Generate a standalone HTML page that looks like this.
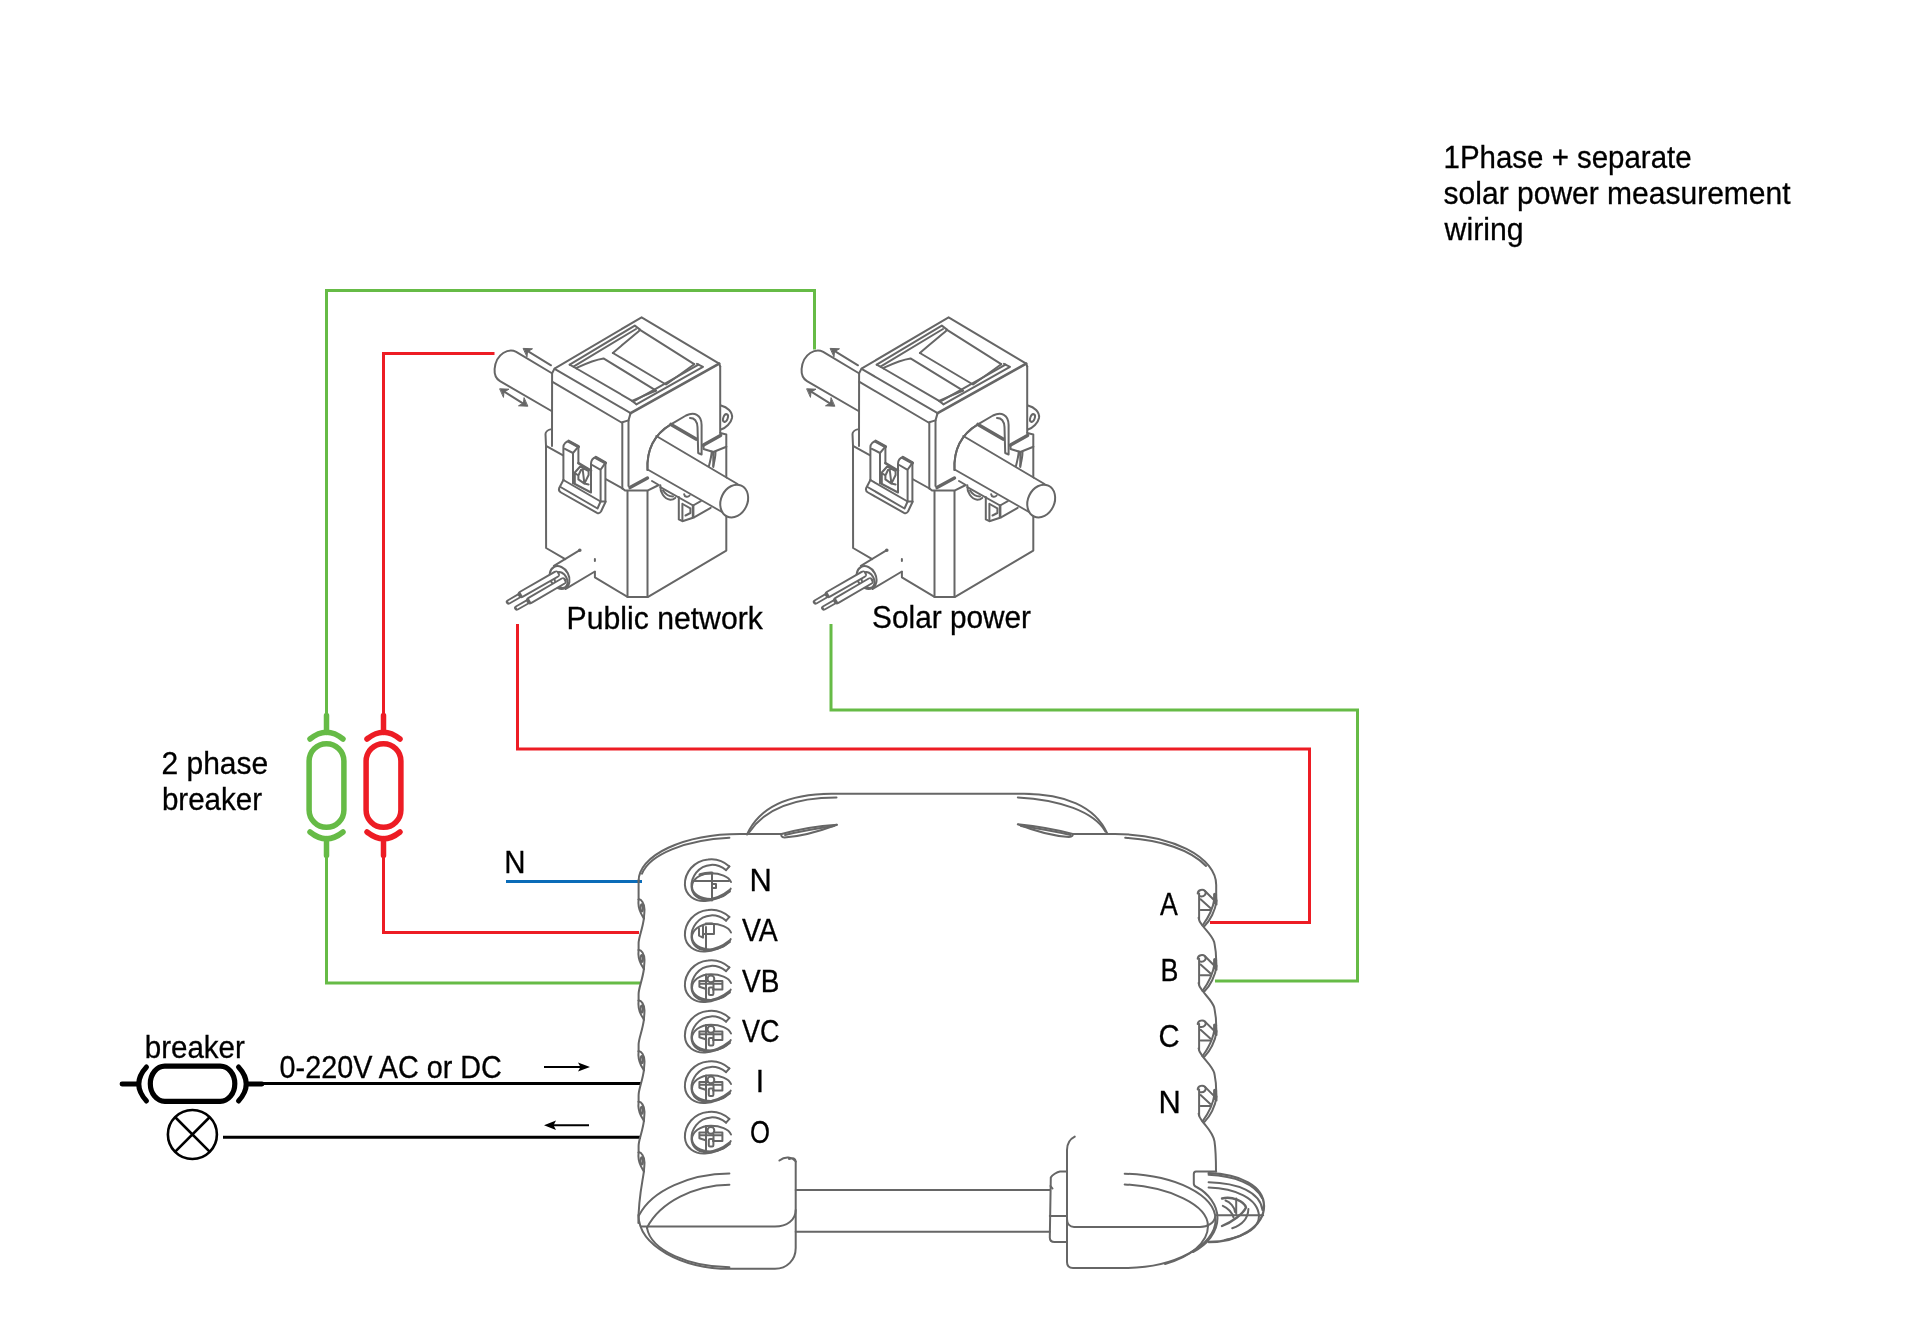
<!DOCTYPE html>
<html><head><meta charset="utf-8">
<style>
html,body{margin:0;padding:0;background:#fff;width:1920px;height:1335px;overflow:hidden}
svg{display:block}
text{font-family:"Liberation Sans",sans-serif;font-size:30px;fill:#000}
#texts{will-change:transform;stroke:#000;stroke-width:0.3px}
</style></head>
<body>
<svg width="1920" height="1335" viewBox="0 0 1920 1335">
<rect width="1920" height="1335" fill="#fff"/>

<!-- TEXT -->
<g id="texts">
<text transform="translate(1443.6 167.8) scale(0.982 1.03)">1Phase + separate</text>
<text transform="translate(1443.6 203.8) scale(1.001 1.03)">solar power measurement</text>
<text transform="translate(1444.6 239.7) scale(1.008 1.03)">wiring</text>
<text transform="translate(566.6 628.8) scale(1.006 1.03)">Public network</text>
<text transform="translate(872.1 628.3) scale(0.993 1.03)">Solar power</text>
<text transform="translate(161.5 773.5) scale(1.000 1.03)">2 phase</text>
<text transform="translate(161.9 809.7) scale(0.985 1.03)">breaker</text>
<text transform="translate(504.2 873.0) scale(0.982 1.03)">N</text>
<text transform="translate(144.7 1058.3) scale(0.985 1.03)">breaker</text>
<text transform="translate(279.6 1077.8) scale(0.959 1.03)">0-220V AC or DC</text>
<text transform="translate(749.4 890.9) scale(1.029 1.03)">N</text>
<text transform="translate(742.0 941.0) scale(0.947 1.03)">VA</text>
<text transform="translate(742.0 991.5) scale(0.934 1.03)">VB</text>
<text transform="translate(742.0 1042.0) scale(0.900 1.03)">VC</text>
<text transform="translate(755.8 1092.3) scale(1.000 1.03)">I</text>
<text transform="translate(750.1 1143.2) scale(0.857 1.03)">O</text>
<text transform="translate(1160.0 914.8) scale(0.890 1.03)">A</text>
<text transform="translate(1160.5 980.7) scale(0.894 1.03)">B</text>
<text transform="translate(1158.6 1046.5) scale(0.972 1.03)">C</text>
<text transform="translate(1158.4 1112.7) scale(1.029 1.03)">N</text>
</g>

<!-- WIRES -->
<g fill="none" stroke-width="3" stroke-linejoin="miter" stroke-linecap="butt">
  <path stroke="#66bb46" d="M814.5 349.5 V290.5 H326.5 V725"/>
  <path stroke="#66bb46" d="M326.5 845 V983 H640"/>
  <path stroke="#ed1c24" d="M494.5 353.5 H383.5 V725"/>
  <path stroke="#ed1c24" d="M383.5 845 V932.5 H639"/>
  <path stroke="#ed1c24" d="M517.5 624 V749 H1309.5 V922.5 H1210"/>
  <path stroke="#66bb46" d="M831 624 V710 H1357.5 V981 H1215"/>
  <path stroke="#0b6cb8" d="M506 881.5 H642"/>
  <path stroke="#000" d="M262 1083.5 H641"/>
  <path stroke="#000" d="M223 1137.3 H641"/>
</g>

<!-- BREAKERS (2 phase) -->
<g id="brk" fill="none" stroke-width="5.5" stroke-linecap="round">
  <g stroke="#66bb46" transform="translate(326.5 785.5)">
    <rect x="-17.4" y="-41.8" width="34.8" height="83.6" rx="17.4"/>
    <path d="M-16.5 -46.5 Q0 -60 16.5 -46.5"/>
    <path d="M-16.5 46.5 Q0 60 16.5 46.5"/>
    <path d="M0 -70 V-53 M0 53 V70"/>
  </g>
  <g stroke="#ed1c24" transform="translate(383.5 785.5)">
    <rect x="-17.4" y="-41.8" width="34.8" height="83.6" rx="17.4"/>
    <path d="M-16.5 -46.5 Q0 -60 16.5 -46.5"/>
    <path d="M-16.5 46.5 Q0 60 16.5 46.5"/>
    <path d="M0 -70 V-53 M0 53 V70"/>
  </g>
</g>

<!-- BLACK BREAKER + LAMP -->
<g fill="none" stroke="#000">
  <rect x="150.3" y="1066.1" width="84.5" height="35.2" rx="14.5" ry="17.6" stroke-width="5.2"/>
  <path d="M146.5 1067 Q131 1084 146.5 1101" stroke-width="5" stroke-linecap="round"/>
  <path d="M238.5 1067 Q254 1084 238.5 1101" stroke-width="5" stroke-linecap="round"/>
  <path d="M122 1084 H138 M247 1084 H262" stroke-width="4.8" stroke-linecap="round"/>
  <circle cx="192.4" cy="1134.5" r="24.5" stroke-width="2.6"/>
  <path d="M175 1117 L209.8 1151.9 M209.8 1117 L175 1151.9" stroke-width="2.6"/>
  <!-- arrows -->
  <path d="M544 1067 H586" stroke-width="2"/>
  <path d="M590 1067 L578 1062.5 L580.5 1067 L578 1071.5 Z" fill="#000" stroke="none"/>
  <path d="M548 1125.2 H589" stroke-width="2"/>
  <path d="M544 1125.2 L556 1120.5 L553.5 1125.2 L556 1130 Z" fill="#000" stroke="none"/>
</g>

<!-- CT CLAMP -->
<g id="ctwrap">
<defs>
<g id="ct" fill="none" stroke="#666" stroke-width="2" stroke-linejoin="round" stroke-linecap="round">
  <!-- cylinder back part -->
  <path d="M551.5 373 L516.2 351.8 C509 348, 496 353, 494.6 369 C494.2 375, 496.5 379, 500 381.1 L551.5 411"/>
  <!-- arrows -->
  <path d="M551 365.3 L527 350.6"/>
  <path d="M523.5 348.4 L532.5 348.8 L527.5 351.7 L527 356.5 Z" fill="#666" stroke-width="1"/>
  <path d="M503 390.8 L524.5 404.3"/>
  <path d="M500 388.8 L509 389.2 L504 392 L503.5 397 Z" fill="#666" stroke-width="1"/>
  <path d="M527.5 406.2 L518.5 405.8 L523.5 403 L524 398 Z" fill="#666" stroke-width="1"/>
  <!-- upper body top face -->
  <path d="M552.1 373.3 L554.5 368.6 L641.6 317.3 L719.2 363.6 L720.2 366.5"/>
  <path d="M554.6 368.9 L630.6 413.1"/>
  <path d="M630.6 413.1 L719.2 363.6" stroke-width="2.8"/>
  <path d="M552.5 381.9 L621.5 422.5 L628.5 420.4 L630.6 413.1"/>
  <!-- inset frame -->
  <path d="M569.7 364.7 L634.8 325.6 L640 329.6"/>
  <path d="M573.5 366.6 L636 329"/>
  <path d="M569.7 364.7 L576.5 368.5"/>
  <path d="M636.4 404.3 L703 366.8 L697 363.8"/>
  <path d="M634.5 400.8 L698.5 364.6"/>
  <path d="M576.5 368.5 L631.7 400.6 L636.4 404.3"/>
  <path d="M640 329.8 L694.2 364.2"/>
  <!-- channel -->
  <path d="M576.5 367.8 C588 362.5, 596 359.5, 603.5 358.4 L656.1 390.7 C648 393.5, 640 397.5, 632 400.8"/>
  <path d="M612.9 353 C622 345, 632 337, 639.5 330.5"/>
  <path d="M612.9 353 L666 384.5 C675 378, 685 371, 694.2 364.2"/>
  <!-- upper body vertical edges -->
  <path d="M552.1 373.3 L552 446"/>
  <path d="M720.2 366.5 L720.2 433"/>
  <path d="M622.3 422.5 L622.3 488.5"/>
  <path d="M628.5 420.4 L628.5 486"/>
  <path d="M546 445.8 L622.5 488.5"/>
  <!-- ear right -->
  <path d="M721 405.5 C727 407, 733 412, 732 418 C731 423, 726 428, 721 429.5"/>
  <ellipse cx="725.5" cy="418" rx="2.2" ry="4" transform="rotate(20 725.5 418)"/>
  <!-- arch -->
  <path d="M647.5 470 C646.5 450, 653 435, 670.9 424.3 L686 415.5 C694 411.5, 701.6 414.5, 701.6 425 L701.6 454.5 L698.2 453 L697.5 427 C697 420, 694 418, 690 418"/>
  <path d="M671 424.5 L696 439" stroke-width="3.6"/>
  <path d="M703.5 445 L720.5 435.5" stroke-width="3.6"/>
  <path d="M713.3 452 L726.4 446.7"/>
  <path d="M703.5 445 L703.5 449 L713.3 452 L713.3 455"/>
  <path d="M708.9 466.2 C710.5 460, 711.5 455, 711.8 451.6"/>
  <path d="M713.3 466 C714.5 461, 715.5 456, 715.5 452"/>
  <!-- clip on left face -->
  <path d="M563.4 480 L563.4 447 C563.4 444, 566 441.5, 568.8 441.3 L578.4 446.7 L578.4 463.2 L591 470.5 L591 463.8 C591 460.5, 593 457.5, 595.8 457.5 L605.4 462.9 L605.5 502 L601 511.5 C600 513, 599 513.8, 597 512.8 L561 492.5 C559.2 491.5, 558.5 490, 559.2 488 Z" fill="#fff" stroke="none"/>
  <path d="M563.4 480 L563.4 447 C563.4 444, 566 441.5, 568.8 441.3 L578.4 446.7 L578.4 463.2"/>
  <path d="M568.8 441.3 L578.4 446.7" stroke-width="3.2"/>
  <path d="M564.9 448.8 L573 453 L578.4 446.7 M573 453 L573 483"/>
  <path d="M591 492 L591 463.8 C591 460.5, 593 457.5, 595.8 457.5 L605.4 462.9 L605.4 501.5"/>
  <path d="M595.8 457.5 L605.4 462.9" stroke-width="3.2"/>
  <path d="M592.2 465 L600.6 469.8 L605.4 462.9 M600.6 469.8 L600.6 501"/>
  <path d="M563.4 480 L600.6 501.5 L605.5 501.5"/>
  <path d="M560.5 487 L597.5 508.5 L600.6 501.5"/>
  <path d="M563.4 480 L559.2 488 C558.5 490, 559.2 491.5, 561 492.5 L597 512.8 C599 513.8, 600 513, 601 511.5 L605.5 502"/>
  <path d="M573 483 L591 492.5"/>
  <path d="M578.4 463.2 L591 470.5" stroke-width="2.6"/>
  <path d="M574.8 472.5 L580.2 466.5 L588.6 471 L588.6 475 L584.4 483.6 L578.4 479.4 L578.4 475.5 L574.8 473 M578.4 475.5 L582.4 467 M582.4 467 L584.4 483.6 M584.4 483.6 L588.6 484.5 M574.8 473 L574.8 483"/>
  <!-- lower body -->
  <path d="M546 445.8 L545.5 434 C545.5 432, 548 430, 550.5 429.4"/>
  <path d="M720.2 433 L726.3 434.5 L726.3 550.6 L648.1 596.9 L627.5 596.9 L594.9 577.3 L594.9 572"/>
  <path d="M565.2 559.1 L546.1 548 L546 445.8"/>
  <path d="M594.9 559 L594.9 561"/>
  <path d="M627.5 491 L627.5 596.9"/>
  <path d="M647.5 491 L647.5 596.9"/>
  <path d="M622.5 488.5 L625 490.6 L647.5 490.6 L658.8 485 L652 481"/>
  <path d="M630 487.6 L647.5 478" stroke-width="3.4"/>
  <path d="M713.3 452 L713.3 467"/>
  <!-- hook under cylinder -->
  <path d="M660.3 485.3 C660 492, 664 499, 670.2 499.7 C672.5 499.8, 674 499, 675.2 497.9"/>
  <path d="M663 490.5 C666 495, 669 496.5, 673 496.5"/>
  <path d="M660.3 487.2 L693.1 505.5 L700.8 501.2"/>
  <path d="M678.8 497 L678.8 519.4 L682.4 521.2 L694.5 517.2 L710.7 507.8"/>
  <path d="M693.1 505.5 L693.1 516.5" stroke-width="2.6"/>
  <path d="M682.4 503.8 L682.4 520"/>
  <path d="M683.5 504.5 L690.4 508.4 L690.4 513 L685.5 515.5"/>
  <path d="M684.2 494.3 C684.5 497, 688 497.5, 689.6 495.5"/>
  <!-- cylinder front (occluding) -->
  <path d="M657.5 437.5 L737 484.8 L748 501 L721 511 L650 470 C649.5 460, 651.5 447, 657.5 437.5 Z" fill="#fff" stroke="none"/>
  <path d="M647.5 470 C646.5 450, 653 435, 670.9 424.3"/>
  <path d="M656.3 436 L737.5 484"/>
  <path d="M648.5 470 L722 512"/>
  <ellipse cx="734.2" cy="501.1" rx="13.2" ry="17" transform="rotate(25 734.2 501.1)" fill="#fff"/>
  <!-- cable -->
  <path d="M553.9 565.8 L579.8 550.1"/>
  <circle cx="579.8" cy="550.2" r="0.8" fill="#666"/>
  <path d="M565.7 588.9 L594.9 571.5"/>
  <ellipse cx="559.6" cy="577.6" rx="9.3" ry="12" transform="rotate(-28 559.6 577.6)" fill="#fff"/>
  <ellipse cx="561" cy="580" rx="6" ry="8.4" transform="rotate(-28 561 580)"/>
  <!-- upper wire -->
  <path d="M508.5 602 L522 594.2" stroke-width="5.4" stroke-linecap="round"/>
  <path d="M508.5 602 L522 594.2" stroke="#fff" stroke-width="1.8" stroke-linecap="butt"/>
  <path d="M521.5 594.2 L556 574.4" stroke-width="7.6" stroke-linecap="round"/>
  <path d="M521.5 594.2 L557.5 573.6" stroke="#fff" stroke-width="3.8" stroke-linecap="butt"/>
  <!-- lower wire -->
  <path d="M516.8 608 L530.5 600.2" stroke-width="5.4" stroke-linecap="round"/>
  <path d="M516.8 608 L530.5 600.2" stroke="#fff" stroke-width="1.8" stroke-linecap="butt"/>
  <path d="M530 600.4 L562.8 581.2" stroke-width="7.6" stroke-linecap="round"/>
  <path d="M530 600.4 L564 580.5" stroke="#fff" stroke-width="3.8" stroke-linecap="butt"/>
</g>
</defs>
<use href="#ct"/>
<use href="#ct" x="307"/>
</g>

<!-- DEVICE -->
<g id="device" fill="none" stroke="#666" stroke-width="2" stroke-linecap="round" stroke-linejoin="round">
<path d="M638.6 881 A101.4 47 0 0 1 740 834 L781.6 834"/>
<path d="M642 873.7 A99.4 43.5 0 0 1 729.4 837.8"/>
<path d="M747 834.5 C760 806, 790 794, 831.6 793.8 L1024 793.8 C1064 794, 1095 806, 1107.2 833.5"/>
<path d="M749.5 832 C766 808, 796 797.6, 836.5 797.6"/>
<path d="M1017.8 797.4 C1060 799.5, 1094 812, 1105.4 831.4"/>
<path d="M781.6 834 C800 829, 820 826, 837 824.8 C823 830, 802 836.5, 784.5 837.5 C781 837.5, 781 835, 781.6 834 Z"/>
<path d="M785 835 C801 831, 820 828, 834 826"/><path d="M1070.5 835 C1054 831, 1035 828, 1021 826"/><path d="M1072.7 834 C1054 829, 1034 826, 1017.8 824.3 C1032 830, 1052 836, 1069 837 C1072.5 837, 1073 835, 1072.7 834 Z"/>

<path d="M1072.7 834 L1114.8 834 A101.4 51 0 0 1 1216.2 885 L1216.2 895"/>
<path d="M1125.2 837.8 A99.4 47.5 0 0 1 1206 866"/>
<path d="M638.6 899.4 C641 898.9, 644.6 903.4, 644.5 909.4 C644.4 914.4, 643.8 917.4, 643.9 918.4"/>
<path d="M638.6 899.4 C638 904.4, 639 909.4, 641 913.4 C642 915.4, 643.5 917.4, 643.9 918.4"/>
<ellipse cx="641.8" cy="907.9" rx="1.2" ry="3.6"/>
<path d="M643.9 918.4 C642.5 929.4, 638.6 937.4, 638.6 943.4 L638.6 950.0"/>
<path d="M638.6 950.0 C641 949.5, 644.6 954.0, 644.5 960.0 C644.4 965.0, 643.8 968.0, 643.9 969.0"/>
<path d="M638.6 950.0 C638 955.0, 639 960.0, 641 964.0 C642 966.0, 643.5 968.0, 643.9 969.0"/>
<ellipse cx="641.8" cy="958.5" rx="1.2" ry="3.6"/>
<path d="M643.9 969.0 C642.5 980.0, 638.6 988.0, 638.6 994.0 L638.6 1000.6"/>
<path d="M638.6 1000.6 C641 1000.1, 644.6 1004.6, 644.5 1010.6 C644.4 1015.6, 643.8 1018.6, 643.9 1019.6"/>
<path d="M638.6 1000.6 C638 1005.6, 639 1010.6, 641 1014.6 C642 1016.6, 643.5 1018.6, 643.9 1019.6"/>
<ellipse cx="641.8" cy="1009.1" rx="1.2" ry="3.6"/>
<path d="M643.9 1019.6 C642.5 1030.6, 638.6 1038.6, 638.6 1044.6 L638.6 1051.2"/>
<path d="M638.6 1051.2 C641 1050.7, 644.6 1055.2, 644.5 1061.2 C644.4 1066.2, 643.8 1069.2, 643.9 1070.2"/>
<path d="M638.6 1051.2 C638 1056.2, 639 1061.2, 641 1065.2 C642 1067.2, 643.5 1069.2, 643.9 1070.2"/>
<ellipse cx="641.8" cy="1059.7" rx="1.2" ry="3.6"/>
<path d="M643.9 1070.2 C642.5 1081.2, 638.6 1089.2, 638.6 1095.2 L638.6 1101.8"/>
<path d="M638.6 1101.8 C641 1101.3, 644.6 1105.8, 644.5 1111.8 C644.4 1116.8, 643.8 1119.8, 643.9 1120.8"/>
<path d="M638.6 1101.8 C638 1106.8, 639 1111.8, 641 1115.8 C642 1117.8, 643.5 1119.8, 643.9 1120.8"/>
<ellipse cx="641.8" cy="1110.3" rx="1.2" ry="3.6"/>
<path d="M643.9 1120.8 C642.5 1131.8, 638.6 1139.8, 638.6 1145.8 L638.6 1152.4"/>
<path d="M638.6 1152.4 C641 1151.9, 644.6 1156.4, 644.5 1162.4 C644.4 1167.4, 643.8 1170.4, 643.9 1171.4"/>
<path d="M638.6 1152.4 C638 1157.4, 639 1162.4, 641 1166.4 C642 1168.4, 643.5 1170.4, 643.9 1171.4"/>
<ellipse cx="641.8" cy="1160.9" rx="1.2" ry="3.6"/>
<path d="M643.9 1171.4 C642.5 1182.4, 638.4 1197.4, 638.4 1223"/>
<path d="M638.6 880 L638.6 899.4"/>
<path d="M1197.7 893.5 C1198 889.5, 1203 889.0, 1205 891.0 L1214.2 900.2"/><path d="M1205 891.0 C1207 893.5, 1204.5 897.0, 1200.2 896.3"/>
<path d="M1199.1 893.5 L1199.1 919.5"/>
<path d="M1200.6 899.2 L1210.3 908.0"/>
<path d="M1200.6 910.0 L1210.3 910.0"/>
<path d="M1214.5 898.5 C1213 908.5, 1207 919.5, 1202.5 925.5"/>
<path d="M1216.5 900.5 C1215.5 910.5, 1210 920.5, 1204.5 926.0"/>
<path d="M1214.8 894.5 L1214.8 902.5" stroke-width="3.4"/>
<path d="M1216.2 895.0 C1216.5 899.5, 1216.5 902.5, 1216.5 904.5"/>
<path d="M1198.6 917.8 C1199 921.5, 1201 923.5, 1202.5 925.5 C1206 930.5, 1212 935.5, 1214.2 942.1 C1215 946.5, 1216.2 950.5, 1216.2 960.3"/>
<path d="M1197.7 958.8 C1198 954.8, 1203 954.3, 1205 956.3 L1214.2 965.5"/><path d="M1205 956.3 C1207 958.8, 1204.5 962.3, 1200.2 961.6"/>
<path d="M1199.1 958.8 L1199.1 984.8"/>
<path d="M1200.6 964.5 L1210.3 973.3"/>
<path d="M1200.6 975.3 L1210.3 975.3"/>
<path d="M1214.5 963.8 C1213 973.8, 1207 984.8, 1202.5 990.8"/>
<path d="M1216.5 965.8 C1215.5 975.8, 1210 985.8, 1204.5 991.3"/>
<path d="M1214.8 959.8 L1214.8 967.8" stroke-width="3.4"/>
<path d="M1216.2 960.3 C1216.5 964.8, 1216.5 967.8, 1216.5 969.8"/>
<path d="M1198.6 983.1 C1199 986.8, 1201 988.8, 1202.5 990.8 C1206 995.8, 1212 1000.8, 1214.2 1007.4 C1215 1011.8, 1216.2 1015.8, 1216.2 1025.6"/>
<path d="M1197.7 1024.1 C1198 1020.1, 1203 1019.6, 1205 1021.6 L1214.2 1030.8"/><path d="M1205 1021.6 C1207 1024.1, 1204.5 1027.6, 1200.2 1026.9"/>
<path d="M1199.1 1024.1 L1199.1 1050.1"/>
<path d="M1200.6 1029.8 L1210.3 1038.6"/>
<path d="M1200.6 1040.6 L1210.3 1040.6"/>
<path d="M1214.5 1029.1 C1213 1039.1, 1207 1050.1, 1202.5 1056.1"/>
<path d="M1216.5 1031.1 C1215.5 1041.1, 1210 1051.1, 1204.5 1056.6"/>
<path d="M1214.8 1025.1 L1214.8 1033.1" stroke-width="3.4"/>
<path d="M1216.2 1025.6 C1216.5 1030.1, 1216.5 1033.1, 1216.5 1035.1"/>
<path d="M1198.6 1048.4 C1199 1052.1, 1201 1054.1, 1202.5 1056.1 C1206 1061.1, 1212 1066.1, 1214.2 1072.7 C1215 1077.1, 1216.2 1081.1, 1216.2 1090.9"/>
<path d="M1197.7 1089.4 C1198 1085.4, 1203 1084.9, 1205 1086.9 L1214.2 1096.1"/><path d="M1205 1086.9 C1207 1089.4, 1204.5 1092.9, 1200.2 1092.2"/>
<path d="M1199.1 1089.4 L1199.1 1115.4"/>
<path d="M1200.6 1095.1 L1210.3 1103.9"/>
<path d="M1200.6 1105.9 L1210.3 1105.9"/>
<path d="M1214.5 1094.4 C1213 1104.4, 1207 1115.4, 1202.5 1121.4"/>
<path d="M1216.5 1096.4 C1215.5 1106.4, 1210 1116.4, 1204.5 1121.9"/>
<path d="M1214.8 1090.4 L1214.8 1098.4" stroke-width="3.4"/>
<path d="M1216.2 1090.9 C1216.5 1095.4, 1216.5 1098.4, 1216.5 1100.4"/>
<path d="M1198.6 1113.7 C1199 1117.4, 1201 1119.4, 1202.5 1121.4 C1206 1126.4, 1213 1132.4, 1214.5 1141.4 C1215.5 1148.4, 1216 1156.4, 1216 1171.4"/>
<g transform="translate(0 880.6)"><path d="M729.4 -14.2 C722 -21, 714 -22, 708 -21.2 C694 -20, 684.5 -8, 684.9 4.3 C685.5 15, 695 21, 705 20.4 C715 20, 724 15, 729.9 10.9"/><path d="M726.1 -10.5 C720 -15, 716 -16, 711 -15.7 C698 -15, 691 -3, 691.5 6 C692 14, 698 19, 705 18.7"/><path d="M729.4 -14.2 L726.1 -10.5"/><path d="M731 1.4 C729 -4, 720 -7.4, 711 -7.4 C700 -7.4, 692 -1, 692 6 C692 13, 700 18.3, 711 18.3 C720 18.3, 728 14, 730.7 8"/><path d="M729.5 9.5 C723 15, 713 18.8, 704 19.8"/><path d="M693.5 0.5 H729 M712 -7.5 V20 M712 3.5 H716 V7.5 H712"/><path d="M700 -6 C704 -7.2, 708 -7.6, 712 -7.5" stroke-width="3"/></g>
<g transform="translate(0 931.1)"><path d="M729.4 -14.2 C722 -21, 714 -22, 708 -21.2 C694 -20, 684.5 -8, 684.9 4.3 C685.5 15, 695 21, 705 20.4 C715 20, 724 15, 729.9 10.9"/><path d="M726.1 -10.5 C720 -15, 716 -16, 711 -15.7 C698 -15, 691 -3, 691.5 6 C692 14, 698 19, 705 18.7"/><path d="M729.4 -14.2 L726.1 -10.5"/><path d="M731 1.4 C729 -4, 720 -7.4, 711 -7.4 C700 -7.4, 692 -1, 692 6 C692 13, 700 18.3, 711 18.3 C720 18.3, 728 14, 730.7 8"/><path d="M729.5 9.5 C723 15, 713 18.8, 704 19.8"/><path d="M706 -4 V18.5 M699 -2.5 V4.5 L703 6.5 V3 H714 V-6.5 M703 3 V-5"/><path d="M706 -7.3 H712" stroke-width="2.6"/></g>
<g transform="translate(0 981.6)"><path d="M729.4 -14.2 C722 -21, 714 -22, 708 -21.2 C694 -20, 684.5 -8, 684.9 4.3 C685.5 15, 695 21, 705 20.4 C715 20, 724 15, 729.9 10.9"/><path d="M726.1 -10.5 C720 -15, 716 -16, 711 -15.7 C698 -15, 691 -3, 691.5 6 C692 14, 698 19, 705 18.7"/><path d="M729.4 -14.2 L726.1 -10.5"/><path d="M731 1.4 C729 -4, 720 -7.4, 711 -7.4 C700 -7.4, 692 -1, 692 6 C692 13, 700 18.3, 711 18.3 C720 18.3, 728 14, 730.7 8"/><path d="M729.5 9.5 C723 15, 713 18.8, 704 19.8"/><path d="M706 -7.2 V17.5 M699.4 -0.6 H722.4 V8 H713 M699.4 -0.6 V5.1 L705.5 7.2 M699.4 2.2 H722.4 M713.5 1.5 V8"/><circle cx="710.9" cy="-2.7" r="3.4" fill="#fff"/><rect x="708.8" y="6" width="4.6" height="7.4" rx="1.2"/></g>
<g transform="translate(0 1032.1)"><path d="M729.4 -14.2 C722 -21, 714 -22, 708 -21.2 C694 -20, 684.5 -8, 684.9 4.3 C685.5 15, 695 21, 705 20.4 C715 20, 724 15, 729.9 10.9"/><path d="M726.1 -10.5 C720 -15, 716 -16, 711 -15.7 C698 -15, 691 -3, 691.5 6 C692 14, 698 19, 705 18.7"/><path d="M729.4 -14.2 L726.1 -10.5"/><path d="M731 1.4 C729 -4, 720 -7.4, 711 -7.4 C700 -7.4, 692 -1, 692 6 C692 13, 700 18.3, 711 18.3 C720 18.3, 728 14, 730.7 8"/><path d="M729.5 9.5 C723 15, 713 18.8, 704 19.8"/><path d="M706 -7.2 V17.5 M699.4 -0.6 H722.4 V8 H713 M699.4 -0.6 V5.1 L705.5 7.2 M699.4 2.2 H722.4 M713.5 1.5 V8"/><circle cx="710.9" cy="-2.7" r="3.4" fill="#fff"/><rect x="708.8" y="6" width="4.6" height="7.4" rx="1.2"/></g>
<g transform="translate(0 1082.6)"><path d="M729.4 -14.2 C722 -21, 714 -22, 708 -21.2 C694 -20, 684.5 -8, 684.9 4.3 C685.5 15, 695 21, 705 20.4 C715 20, 724 15, 729.9 10.9"/><path d="M726.1 -10.5 C720 -15, 716 -16, 711 -15.7 C698 -15, 691 -3, 691.5 6 C692 14, 698 19, 705 18.7"/><path d="M729.4 -14.2 L726.1 -10.5"/><path d="M731 1.4 C729 -4, 720 -7.4, 711 -7.4 C700 -7.4, 692 -1, 692 6 C692 13, 700 18.3, 711 18.3 C720 18.3, 728 14, 730.7 8"/><path d="M729.5 9.5 C723 15, 713 18.8, 704 19.8"/><path d="M706 -7.2 V17.5 M699.4 -0.6 H722.4 V8 H713 M699.4 -0.6 V5.1 L705.5 7.2 M699.4 2.2 H722.4 M713.5 1.5 V8"/><circle cx="710.9" cy="-2.7" r="3.4" fill="#fff"/><rect x="708.8" y="6" width="4.6" height="7.4" rx="1.2"/></g>
<g transform="translate(0 1133.1)"><path d="M729.4 -14.2 C722 -21, 714 -22, 708 -21.2 C694 -20, 684.5 -8, 684.9 4.3 C685.5 15, 695 21, 705 20.4 C715 20, 724 15, 729.9 10.9"/><path d="M726.1 -10.5 C720 -15, 716 -16, 711 -15.7 C698 -15, 691 -3, 691.5 6 C692 14, 698 19, 705 18.7"/><path d="M729.4 -14.2 L726.1 -10.5"/><path d="M731 1.4 C729 -4, 720 -7.4, 711 -7.4 C700 -7.4, 692 -1, 692 6 C692 13, 700 18.3, 711 18.3 C720 18.3, 728 14, 730.7 8"/><path d="M729.5 9.5 C723 15, 713 18.8, 704 19.8"/><path d="M706 -7.2 V17.5 M699.4 -0.6 H722.4 V8 H713 M699.4 -0.6 V5.1 L705.5 7.2 M699.4 2.2 H722.4 M713.5 1.5 V8"/><circle cx="710.9" cy="-2.7" r="3.4" fill="#fff"/><rect x="708.8" y="6" width="4.6" height="7.4" rx="1.2"/></g>
<path d="M638.4 1215 C639 1246, 682 1268.8, 730 1268.8 L775 1268.8 C787 1268.8, 795.7 1260, 795.7 1248 L795.7 1161.5"/>
<path d="M795.7 1161.5 C795.5 1158, 793 1157.5, 789 1159 M779.4 1160.5 C785 1156, 792 1156.5, 795.7 1161.5"/>
<path d="M641 1226.6 L775 1226.6 C787 1226.6, 795.7 1220, 795.7 1210"/>
<path d="M639 1215.4 C652 1190, 690 1174, 729.4 1173.6"/>
<path d="M647 1227.8 C660 1202, 695 1185, 729.4 1184.7"/>
<path d="M647 1227.8 C651 1251, 690 1267, 729.4 1267.2"/>
<path d="M795.7 1190 L1049.8 1190 M795.7 1231.7 L1049.8 1231.7"/>
<path d="M1066 1171.6 L1060 1171.6 C1057 1172, 1052 1175, 1050.8 1177.5 L1049.8 1237.5 C1049.8 1240.5, 1051.5 1242, 1054.5 1242 L1066 1242"/>
<path d="M1049.8 1216 L1066 1216 M1050.5 1186 L1052.5 1188.5"/>
<path d="M1074.75 1136.6 C1070 1139, 1067 1143, 1067 1150 L1067 1262 C1067 1266, 1069 1268, 1073 1268 L1124.7 1268 C1175 1268, 1215.6 1245, 1215.6 1220 C1215.6 1195, 1175 1175, 1124.7 1173.75"/>
<path d="M1124.7 1184.4 C1170 1187, 1208 1205, 1208 1226 C1208 1243, 1190 1257, 1165 1264"/>
<path d="M1067 1219 C1067 1224, 1070 1226.9, 1074 1226.9 L1200 1226.9 C1208 1226.9, 1214 1223, 1215.2 1217"/>
<path d="M1216.2 1171.5 L1196 1171.5 C1194.5 1171.5, 1193.8 1172.5, 1193.8 1174 L1193.8 1183.6 C1193.8 1185.5, 1195 1186.5, 1196.5 1187 C1208 1193, 1217.5 1205, 1217.5 1218 C1217.5 1232, 1207 1245, 1193 1252"/>
<path d="M1208.6 1173.2 C1240 1174, 1264 1186, 1264 1206 C1264 1226, 1240 1242, 1208.6 1242" stroke-width="2.3"/>
<path d="M1208.6 1174.8 C1235 1176, 1255 1184, 1262 1198"/>
<path d="M1208.6 1182.3 C1238 1183, 1260 1192, 1262.5 1210"/>
<path d="M1208.6 1187.6 C1235 1188.5, 1258 1198, 1259 1216 C1259 1228, 1245 1236, 1225 1240"/>
<path d="M1216.7 1215.3 H1263.2"/>
<path d="M1222 1198.5 C1232 1196, 1244 1201, 1246 1207.5 C1243 1214, 1232 1222, 1222 1226" stroke-width="2.4"/>
<path d="M1225.5 1200.5 C1230 1202, 1234.5 1207, 1235 1212 M1222.8 1205.9 C1228 1208, 1232.5 1213, 1233.5 1217.5 M1236.2 1198.5 V1214"/>
<path d="M1248.4 1209 C1248 1218, 1242 1225, 1232.2 1228.3"/>
</g>

</svg>
</body></html>
